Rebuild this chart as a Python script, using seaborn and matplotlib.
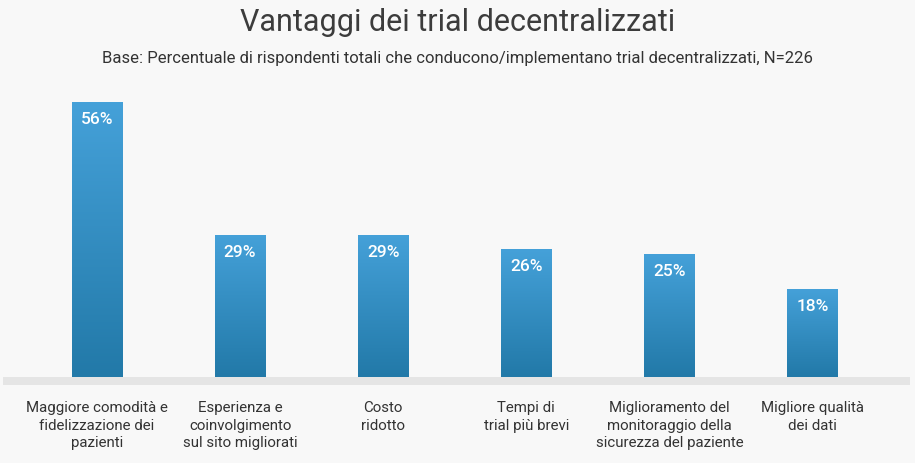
import numpy as np
import pandas as pd
import matplotlib
matplotlib.use("Agg")
import matplotlib.pyplot as plt
from matplotlib.colors import LinearSegmentedColormap
import seaborn as sns

categories = [
    "Maggiore comodità e\nfidelizzazione dei\npazienti",
    "Esperienza e\ncoinvolgimento\nsul sito migliorati",
    "Costo\nridotto",
    "Tempi di\ntrial più brevi",
    "Miglioramento del\nmonitoraggio della\nsicurezza del paziente",
    "Migliore qualità\ndei dati",
]
values = [56, 29, 29, 26, 25, 18]

df = pd.DataFrame({"cat": categories, "val": values})

sns.set_theme(style="white")
plt.rcParams["font.family"] = ["Roboto", "DejaVu Sans"]

bg = "#f8f8f8"
fig = plt.figure(figsize=(9.15, 4.64), dpi=100, facecolor=bg)
ax = fig.add_axes([0.00328, 0.1681, 0.991, 0.6524])
ax.set_facecolor(bg)

sns.barplot(data=df, x="cat", y="val", color="#3390c8", width=0.35, ax=ax,
            saturation=1)
bars = list(ax.patches)

ymin, ymax = -1.65, 60
ax.set_ylim(ymin, ymax)
ax.set_xlim(-0.657, 5.68)
ax.axhspan(ymin, 0, color="#e5e5e5", zorder=1, lw=0)

# gradient fill per bar
cmap = LinearSegmentedColormap.from_list("g", ["#2279a8", "#45a1d9"])
grad = np.linspace(0, 1, 256).reshape(-1, 1)
for p in bars:
    x0, w, h = p.get_x(), p.get_width(), p.get_height()
    im = ax.imshow(grad, cmap=cmap, aspect="auto", origin="lower",
                   extent=(x0, x0 + w, 0, h), zorder=3)
    im.set_clip_path(p)
    p.set_edgecolor("none")
    ax.text(x0 + w / 2, h - 3.4, f"{int(h)}%", ha="center", va="center",
            color="white", fontsize=12.5, fontweight="medium", zorder=4)

for s in ax.spines.values():
    s.set_visible(False)
ax.set_yticks([])
ax.set_xlabel("")
ax.set_ylabel("")
ax.tick_params(axis="x", length=0, pad=11, labelsize=10.8, labelcolor="#333333")
for t in ax.get_xticklabels():
    t.set_linespacing(1.3)
    t.set_verticalalignment("top")

fig.text(0.5, 0.952, "Vantaggi dei trial decentralizzati", ha="center",
         va="center", fontsize=22, fontweight="normal", color="#3c3c3c")
fig.text(0.5, 0.875,
         "Base: Percentuale di rispondenti totali che conducono/implementano trial decentralizzati, N=226",
         ha="center", va="center", fontsize=12, color="#333333")

fig.savefig("out.png", dpi=100, facecolor=bg)
